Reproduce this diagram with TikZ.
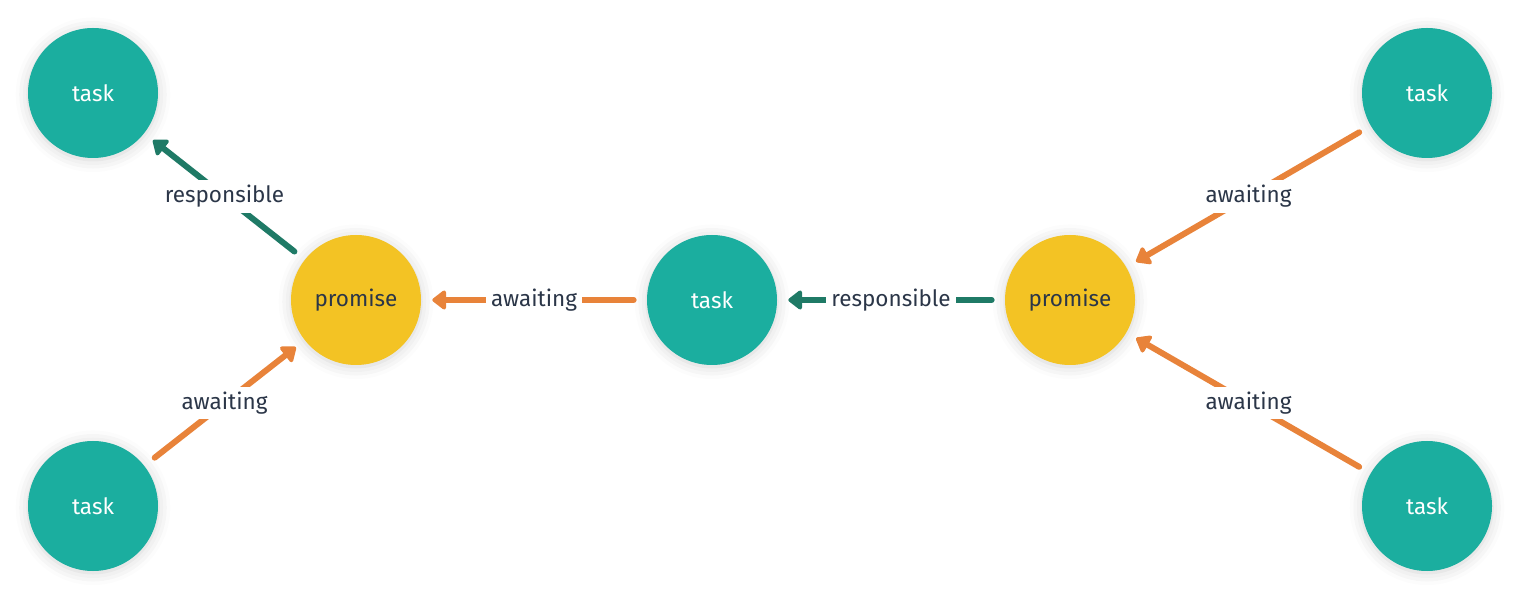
\documentclass[tikz,border=0pt]{standalone}
\usepackage{fontspec}
\setmainfont{Fira Sans}
\usepackage{tikz}
\usetikzlibrary{arrows.meta, shadows.blur}
\definecolor{taskColor}{RGB}{27, 174, 159}
\definecolor{promiseColor}{RGB}{243, 195, 36}
\definecolor{awaitColor}{RGB}{232, 131, 58}
\definecolor{respColor}{RGB}{31, 122, 102}
\definecolor{labelColor}{RGB}{43, 54, 72}
\tikzset{
    task_node/.style={
        circle,
        fill=taskColor,
        text=white,
        minimum size=2.6cm,
        font=\fontsize{12.8}{14}\selectfont,
        blur shadow={shadow xshift=0pt, shadow yshift=-1pt,
            shadow blur radius=7pt, shadow opacity=18}
    },
    promise_node/.style={
        task_node,
        fill=promiseColor,
        text=labelColor
    },
    base_edge/.style={
        -{Triangle[length=8.5pt, width=12.5pt, round]},
        line width=3.4pt,
        line cap=round,
        shorten <=0.26cm,
        shorten >=0.22cm,
        every node/.style={
            fill=white,
            text=labelColor,
            inner sep=3pt,
            font=\fontsize{12.8}{14}\selectfont
        }
    },
    await_edge/.style={
        base_edge,
        color=awaitColor
    },
    resp_edge/.style={
        base_edge,
        color=respColor
    }
}

\begin{document}
\begin{tikzpicture}
    \useasboundingbox (0,0) rectangle (30.4,11.98);

    \node[task_node] (t1) at (1.86,10.12) {task};
    \node[task_node] (t2) at (1.86,1.86) {task};
    \node[promise_node] (p1) at (7.12,5.98) {promise};
    \node[task_node] (t0) at (14.24,5.98) {task};
    \node[promise_node] (p2) at (21.40,5.98) {promise};
    \node[task_node] (t3) at (28.54,10.12) {task};
    \node[task_node] (t4) at (28.54,1.86) {task};

    \draw[resp_edge] (p1) edge node {responsible} (t1);
    \draw[await_edge] (t2) edge node {awaiting} (p1);
    \draw[await_edge] (t0) edge node {awaiting} (p1);
    \draw[resp_edge] (p2) edge node {responsible} (t0);
    \draw[await_edge]
        (t3) edge node {awaiting} (p2)
        (t4) edge node {awaiting} (p2);
\end{tikzpicture}
\end{document}
